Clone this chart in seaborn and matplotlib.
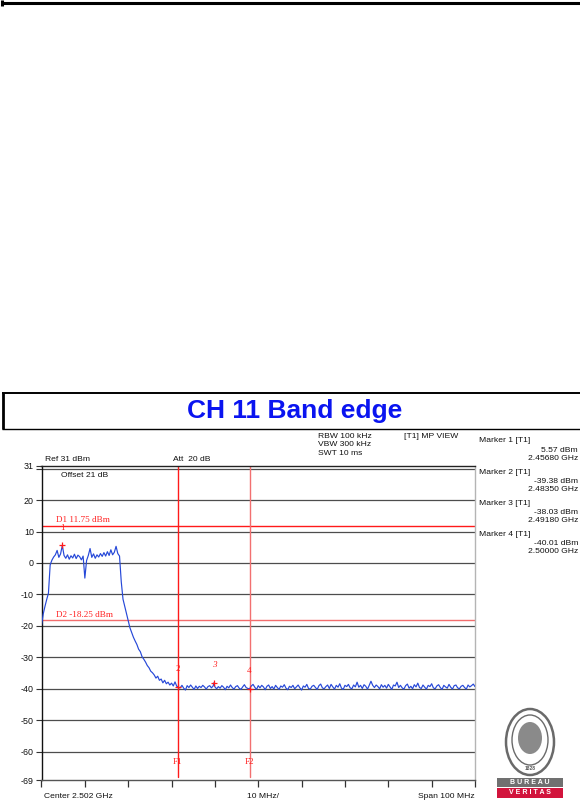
import numpy as np
import pandas as pd
import matplotlib
matplotlib.use("Agg")
import matplotlib.pyplot as plt
from matplotlib.patches import Ellipse, Rectangle
import seaborn as sns

sns.set_style("white")
plt.rcParams["font.family"] = ["Liberation Sans", "DejaVu Sans"]

W, H = 580, 807

# ---- sweep settings ----
center_ghz = 2.502
span_ghz = 0.100
n_points = 251

# ---- trace levels (dBm), one value per sweep point ----
band_dbm = [
    -19.8, -16.2, -13.8, -11.6, -9.6, -0.6, 0.9, 1.9, 2.6, 4.0,
    1.8, 2.9, 5.57, 2.4, 1.5, 2.6, 1.2, 2.3, 1.6, 2.8,
    1.4, 2.5, 2.0, 1.0, 2.2, -4.8, 0.8, 2.4, 4.6, 1.8,
    2.9, 1.5, 2.6, 1.9, 3.0, 2.1, 3.3, 2.2, 3.6, 2.4,
    4.2, 2.6, 3.4, 5.3, 3.0, 2.2,
]
skirt_dbm = [
    -6.0, -11.5, -13.8, -16.2, -18.4, -20.6, -22.1, -23.6, -24.8, -25.9,
    -27.4, -28.2, -29.8, -30.6, -31.5, -32.6, -33.3, -34.4, -34.9, -35.6,
    -36.6, -36.0, -37.3, -36.9, -38.1, -37.3, -38.4, -37.9, -38.8, -38.2,
    -39.1, -37.8, -39.2, -39.6,
]
floor_dbm = [
    -39.7, -38.9, -39.8, -40.4, -39.0, -39.6, -38.8, -39.5, -40.2, -39.1,
    -39.9, -39.2, -39.6, -38.9, -39.4, -40.1, -39.3, -39.0, -39.7, -39.1,
    -39.4, -40.0, -39.3, -39.8, -39.0, -39.5, -40.3, -39.2, -39.7, -38.8,
    -39.6, -40.1, -39.3, -39.0, -39.8, -40.2, -39.4, -38.7, -39.6, -39.9,
    -40.0, -39.1, -38.6, -39.5, -40.2, -39.0, -39.7, -38.9, -39.4, -40.3,
    -39.2, -38.8, -39.9, -39.3, -40.1, -38.9, -39.6, -40.2, -39.1, -39.5,
    -38.7, -39.8, -40.3, -39.2, -39.6, -38.9, -40.0, -39.4, -38.8, -39.7,
    -40.4, -39.1, -39.5, -38.6, -39.9, -40.1, -39.2, -38.9, -39.6, -40.2,
    -39.0, -38.5, -39.7, -40.0, -39.3, -38.8, -39.9, -38.6, -39.4, -40.1,
    -38.9, -39.5, -38.4, -39.8, -40.2, -38.9, -39.3, -38.6, -39.7, -40.0,
    -38.8, -39.4, -37.9, -39.5, -38.9, -39.9, -38.7, -39.2, -40.1, -38.9,
    -37.6, -38.9, -39.6, -38.8, -39.3, -40.0, -38.7, -39.5, -38.9, -39.8,
    -38.6, -39.4, -40.2, -38.8, -39.1, -37.9, -39.6, -38.9, -39.7, -40.1,
    -39.0, -38.5, -39.8, -39.2, -40.0, -38.7, -39.4, -38.2, -39.6, -39.9,
    -38.8, -39.5, -40.1, -38.9, -39.3, -38.4, -39.7, -40.0, -39.1, -38.7,
    -39.6, -40.2, -38.9, -39.4, -39.8, -38.6, -39.5, -40.1, -39.0, -38.8,
    -39.7, -40.0, -39.2, -38.9, -39.6, -40.1, -38.8, -39.4, -39.0, -38.5,
    -39.3,
]

# ---- markers ----
marker_ids = [1, 2, 3, 4]
marker_ghz = [2.45680, 2.48350, 2.49180, 2.50000]
marker_dbm = [5.57, -39.38, -38.03, -40.01]

# ---- display / frequency lines ----
dline_names = ["D1", "D2"]
dline_dbm = [11.75, -18.25]
fline_names = ["F1", "F2"]
fline_ghz = [2.4835, 2.5000]

# ---- level axis ----
ytick_vals = [31, 20, 10, 0, -10, -20, -30, -40, -50, -60, -69]
grid_vals = [30, 20, 10, 0, -10, -20, -30, -40, -50, -60]

# ---- header texts ----
settings_lines = ["RBW 100 kHz", "VBW 300 kHz", "SWT 10 ms"]
view_label = "[T1] MP VIEW"
ref_label = "Ref 31 dBm"
att_label = "Att  20 dB"
offset_label = "Offset 21 dB"
footer = ["Center 2.502 GHz", "10 MHz/", "Span 100 MHz"]
title = "CH 11 Band edge"


def fx(x):
    return x / W


def fy(y):
    return 1 - y / H


fig = plt.figure(figsize=(W / 100, H / 100), dpi=100)
fig.patch.set_facecolor("white")

# page decorations (frame lines, logo) in pixel coordinates
deco = fig.add_axes([0, 0, 1, 1])
deco.set_xlim(0, W)
deco.set_ylim(H, 0)
deco.axis("off")
deco.plot([2, W], [3, 3], color="black", lw=2.2, solid_capstyle="butt")
deco.plot([1.5, 1.5], [0, 6], color="black", lw=2.2, solid_capstyle="butt")
deco.plot([2, W], [393, 393], color="black", lw=1.4, solid_capstyle="butt")
deco.plot([2, W], [428.5, 428.5], color="black", lw=1.0, solid_capstyle="butt")
deco.plot([2.5, 2.5], [392.5, 429], color="black", lw=2.0, solid_capstyle="butt")
deco.text(295, 411, title, color="#0a14f0", fontsize=19, fontweight="bold",
          ha="center", va="center")

# certification seal
deco.add_patch(Ellipse((530, 742), 48, 66, facecolor="white", edgecolor="#6a6a6a", lw=1.8))
deco.add_patch(Ellipse((530, 740), 36, 50, facecolor="white", edgecolor="#6a6a6a", lw=1.0))
deco.add_patch(Ellipse((530, 738), 24, 32, facecolor="#8a8a8a", edgecolor="none"))
deco.text(530, 769, "1828", fontsize=3.5, color="#555555", ha="center", va="center",
          fontweight="bold")
deco.add_patch(Rectangle((497, 778), 66, 9, facecolor="#707070", edgecolor="none"))
deco.add_patch(Rectangle((497, 788), 66, 9.5, facecolor="#d2143c", edgecolor="none"))
deco.text(530, 782.7, "B U R E A U", fontsize=5, color="white", ha="center",
          va="center", fontweight="bold")
deco.text(530, 792.9, "V E R I T A S", fontsize=5, color="white", ha="center",
          va="center", fontweight="bold")

# spectrum axes
ax = fig.add_axes([fx(41.5), fy(780), (475 - 41.5) / W, (780 - 465.5) / H])
f0 = center_ghz - span_ghz / 2
f1 = center_ghz + span_ghz / 2
ax.set_xlim(f0, f1)
ax.set_ylim(-69, 31)

sweep_ghz = np.linspace(f0, f1, n_points)
levels = band_dbm + skirt_dbm + floor_dbm
trace = pd.DataFrame({"ghz": sweep_ghz, "dbm": levels})
marks = pd.DataFrame({"ghz": marker_ghz, "dbm": marker_dbm})
trace = pd.concat([trace, marks], ignore_index=True)
trace["key"] = trace["ghz"].round(6)
trace = trace.drop_duplicates("key", keep="last").sort_values("ghz")

for v in grid_vals:
    ax.axhline(v, color="#4d4d4d", lw=0.9, zorder=1)

for name, v in zip(dline_names, dline_dbm):
    col = "#ff1a1a" if name == "D1" else "#f26d6d"
    ax.axhline(v, color=col, lw=1.0, zorder=2)
    ax.text(f0 + 0.0033, v + 0.6, f"{name} {v:.2f} dBm", color="#ff2020",
            family=["Liberation Serif", "DejaVu Serif"], fontsize=6.6,
            ha="left", va="bottom", zorder=4)

for name, f in zip(fline_names, fline_ghz):
    col = "#ff1a1a" if name == "F1" else "#f27070"
    ax.axvline(f, ymin=0.008, ymax=1, color=col, lw=1.0, zorder=2)
    ax.text(f, -63.4, name, color="#ff2020",
            family=["Liberation Serif", "DejaVu Serif"], fontsize=6.6,
            ha="center", va="center", zorder=4)

sns.lineplot(data=trace, x="ghz", y="dbm", ax=ax, color="#2648d8", lw=0.85,
             estimator=None, sort=True, zorder=3)

ax.scatter(marker_ghz, marker_dbm, marker="+", s=22, color="#ff1a1a",
           linewidths=0.9, zorder=5)
for mid, f, v in zip(marker_ids, marker_ghz, marker_dbm):
    ax.text(f, v + 5.6, str(mid), color="#ff2020",
            family=["Liberation Serif", "DejaVu Serif"], fontsize=6.6,
            ha="center", va="center", zorder=5,
            style="italic" if mid == 3 else "normal")

ax.set_xlabel("")
ax.set_ylabel("")
ax.set_xticks(np.linspace(f0, f1, 11))
ax.tick_params(axis="x", direction="out", length=5, width=0.9, color="#333333",
               labelbottom=False, bottom=True)
ax.set_yticks(ytick_vals + [30])
ax.set_yticklabels([str(v) for v in ytick_vals] + [""])
ax.tick_params(axis="y", direction="out", length=4, width=0.8, color="#333333",
               pad=1.5, labelsize=6.4, labelcolor="#111111", left=True)

for side, col in [("left", "#111111"), ("bottom", "#555555"),
                  ("top", "#222222"), ("right", "#b4b4b4")]:
    ax.spines[side].set_visible(True)
    ax.spines[side].set_color(col)
    ax.spines[side].set_linewidth(1.0)

# header and side panel texts
small = dict(fontsize=6.1, color="#111111")
fig.text(fx(45), fy(459), ref_label, ha="left", va="center", **small)
fig.text(fx(173), fy(459), att_label, ha="left", va="center", **small)
fig.text(fx(61), fy(475), offset_label, ha="left", va="center", **small)
for k, s in enumerate(settings_lines):
    fig.text(fx(318), fy(436 + 8.6 * k), s, ha="left", va="center", **small)
fig.text(fx(404), fy(436), view_label, ha="left", va="center", **small)

for k, (mid, f, v) in enumerate(zip(marker_ids, marker_ghz, marker_dbm)):
    y0 = 441 + 31.3 * k
    fig.text(fx(479), fy(y0), f"Marker {mid} [T1]", ha="left", va="center", **small)
    fig.text(fx(578), fy(y0 + 9), f"{v:.2f} dBm", ha="right", va="center", **small)
    fig.text(fx(578), fy(y0 + 17), f"{f:.5f} GHz", ha="right", va="center", **small)

fig.text(fx(44), fy(797), footer[0], ha="left", va="center", **small)
fig.text(fx(247), fy(797), footer[1], ha="left", va="center", **small)
fig.text(fx(475), fy(797), footer[2], ha="right", va="center", **small)

fig.savefig("out.png", dpi=100, facecolor="white")
